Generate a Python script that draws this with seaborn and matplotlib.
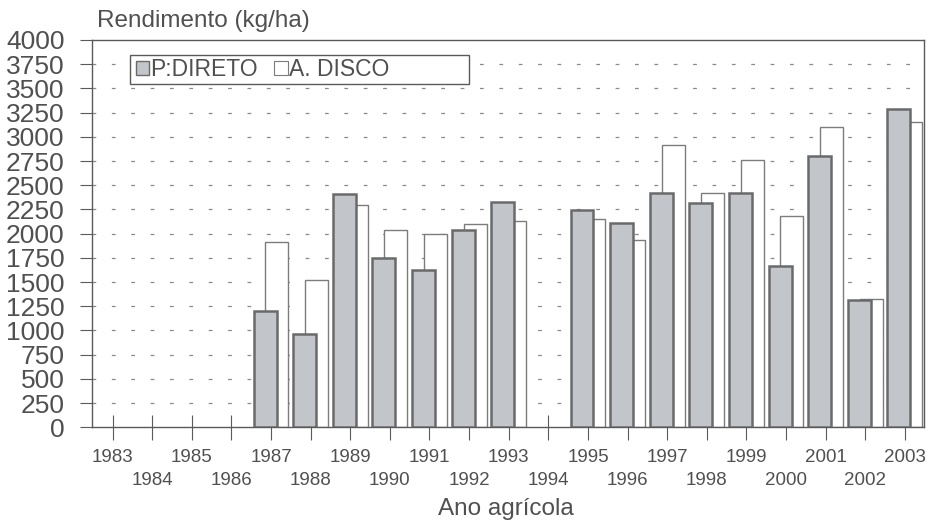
import matplotlib

matplotlib.use("Agg")

import matplotlib.pyplot as plt
import numpy as np
import pandas as pd
import seaborn as sns
from matplotlib.patches import Patch, Rectangle

# anos agrícolas e rendimentos (kg/ha)
years = list(range(1983, 2004))
p_direto = [np.nan, np.nan, np.nan, np.nan, 1200, 960, 2410, 1750, 1625, 2040, 2330,
            np.nan, 2245, 2105, 2415, 2315, 2415, 1670, 2800, 1310, 3290]
a_disco = [np.nan, np.nan, np.nan, np.nan, 1915, 1520, 2300, 2035, 1995, 2100, 2130,
           np.nan, 2150, 1930, 2920, 2415, 2760, 2180, 3100, 1330, 3150]
y_ticks = list(range(0, 4001, 250))
series_names = ["P:DIRETO", "A. DISCO"]

TEXT = "#505050"
LINE = "#5a5a5a"
GRAY_FILL = "#c2c6cb"
GRAY_EDGE = "#6a6a6a"

sns.set_style("white")
plt.rcParams["font.family"] = ["Liberation Sans", "DejaVu Sans"]

fig = plt.figure(figsize=(9.27, 5.2), dpi=100)
ax = fig.add_axes([0.0996, 0.1783, 0.8975, 0.7448])

shift = 0.15
df_p = pd.DataFrame({"x": np.array(years) - shift, "y": p_direto})
df_a = pd.DataFrame({"x": np.array(years) + shift, "y": a_disco})

# A. DISCO atrás, P:DIRETO à frente
sns.barplot(data=df_a, x="x", y="y", native_scale=True, width=0.58,
            color="white", edgecolor="#7c7c7c", linewidth=1.0, saturation=1,
            errorbar=None, ax=ax, zorder=2)
sns.barplot(data=df_p, x="x", y="y", native_scale=True, width=0.58,
            color=GRAY_FILL, edgecolor=GRAY_EDGE, linewidth=1.8, saturation=1,
            errorbar=None, ax=ax, zorder=3)

ax.set_xlim(1982.49, 2003.49)
ax.set_ylim(0, 4000)
ax.set_yticks(y_ticks)
ax.set_yticklabels([str(v) for v in y_ticks], fontsize=19, color=TEXT)

# anos alternados em duas linhas: ímpares como major, pares como minor
upper = years[::2]
lower = years[1::2]
ax.set_xticks(upper)
ax.set_xticklabels([str(y) for y in upper], fontsize=13.5, color=TEXT)
ax.set_xticks(lower, minor=True)
ax.set_xticklabels([str(y) for y in lower], minor=True, fontsize=13.5, color=TEXT)
ax.tick_params(axis="x", which="major", direction="inout", length=18, width=0.8,
               color=LINE, pad=6.5, bottom=True)
ax.tick_params(axis="x", which="minor", direction="inout", length=18, width=0.8,
               color=LINE, pad=23, bottom=True)
ax.tick_params(axis="y", direction="out", length=9, width=0.8, color=LINE, pad=11,
               left=True)

for v in y_ticks[1:-1]:
    ax.axhline(v, color="#8a8a8a", lw=0.9, ls=(0, (3, 12.5)), zorder=1)

for side in ["left", "right", "top", "bottom"]:
    ax.spines[side].set_color(LINE)
    ax.spines[side].set_linewidth(1.0)

ax.set_xlabel("")
ax.set_ylabel("")
fig.text(97 / 927, 1 - 21 / 520, "Rendimento (kg/ha)", fontsize=17.5, color=TEXT,
         ha="left", va="center")
fig.text(506 / 927, 1 - 509 / 520, "Ano agrícola", fontsize=17.5, color=TEXT,
         ha="center", va="center")

# caixa da legenda desenhada à parte, texto encostado à esquerda
ax.add_patch(Rectangle((0.0453, 0.8862), 0.4075, 0.0748, transform=ax.transAxes,
                       facecolor="white", edgecolor=LINE, linewidth=1.0, zorder=4))
handles = [Patch(facecolor=GRAY_FILL, edgecolor=GRAY_EDGE, linewidth=1.0),
           Patch(facecolor="white", edgecolor="#7c7c7c", linewidth=0.8)]
leg = ax.legend(handles, series_names, loc="center left", ncol=2,
                bbox_to_anchor=(0.052, 0.9236), frameon=False, fontsize=16.5,
                handlelength=0.6, handleheight=0.6, handletextpad=0.05,
                columnspacing=0.7, borderpad=0, borderaxespad=0)
leg.set_zorder(5)
for t in leg.get_texts():
    t.set_color(TEXT)

fig.savefig("out.png", dpi=100, facecolor="white")
